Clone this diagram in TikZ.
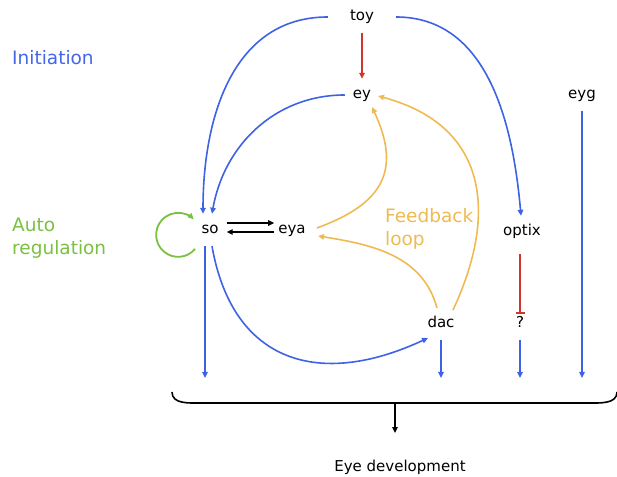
\documentclass[tikz,border=0pt]{standalone}
\usepackage{fontspec}
\setmainfont{DejaVu Sans}
\usetikzlibrary{arrows.meta}
\definecolor{cblue}{RGB}{62,98,228}
\definecolor{cred}{RGB}{208,52,44}
\definecolor{corange}{RGB}{239,186,82}
\definecolor{cgreen}{RGB}{122,192,66}
\definecolor{ciniblue}{RGB}{68,102,232}
\begin{document}
\begin{tikzpicture}[x=1pt,y=1pt,
 gene/.style={font=\fontsize{15}{18}\selectfont, inner xsep=4pt, inner ysep=0pt, text height=11pt, text depth=3pt, minimum height=32pt},
 lbl/.style={font=\fontsize{18.5}{23}\selectfont, inner sep=0pt},
 tip/.style={-{Triangle[length=6pt,width=5.5pt]}},
 bluearr/.style={tip, cblue, line width=1.6pt},
 orarr/.style={tip, corange, line width=1.6pt},
 redarr/.style={tip, cred, line width=1.6pt},
 blkarr/.style={tip, black, line width=1.4pt},
 grnarr/.style={tip, cgreen, line width=1.8pt},
 inhib/.style={-{Bar[width=9pt]}, cred, line width=1.6pt},
 brace/.style={black, line width=1.6pt},
]
\useasboundingbox (0,0) rectangle (617,476);
% labels
\node[lbl, anchor=west, text=ciniblue] (init) at (12,418) {Initiation};
\node[lbl, anchor=west, align=left, text=cgreen] (auto) at (12,238) {Auto\\regulation};
\node[lbl, anchor=west, align=left, text=corange] (fb) at (385,247) {Feedback\\loop};
% genes
\node[gene] (toy) at (362,459) {toy};
\node[gene] (ey) at (362,381) {ey};
\node[gene] (eyg) at (582,381) {eyg};
\node[gene] (so) at (210,246) {so};
\node[gene] (eya) at (292,246) {eya};
\node[gene] (optix) at (522,244) {optix};
\node[gene] (dac) at (441,152) {dac};
\node[gene] (q) at (520,152) {?};
\node[font=\fontsize{15}{18}\selectfont] (dev) at (400,9) {Eye development};
% coordinates
\coordinate (sodown) at (205,98);
\coordinate (dacend) at (441,98);
\coordinate (qend) at (520,98);
\coordinate (eygend) at (582,98);
\coordinate (bl) at (172,84);
\coordinate (bl2) at (202,73);
\coordinate (br2) at (588,73);
\coordinate (br) at (617,84);
\coordinate (stem) at (395,73);
\coordinate (devtip) at (395,43);
\coordinate (loopst) at ([shift={(-15,-19)}]so.center);
% connectors
\draw[redarr] (toy.south) -- (ey.north);
\draw[bluearr] ([xshift=-18]toy.west) to[out=180,in=90,looseness=1.05] ([xshift=-7]so.north);
\draw[bluearr] ([xshift=18]toy.east) to[out=0,in=95] ([xshift=-1]optix.north);
\draw[bluearr] ([xshift=-4]ey.west) to[out=180,in=80] ([xshift=2]so.north);
\draw[orarr] ([shift={(7,2)}]eya.east) to[out=20,in=-65,looseness=1.35] ([shift={(10,-12)}]ey.center);
\draw[orarr] ([shift={(12,14)}]dac.center) to[out=65,in=-15,looseness=1.25] ([shift={(16,-1)}]ey.center);
\draw[orarr] ([shift={(-4,16)}]dac.center) to[out=105,in=-9] ([shift={(26,-6)}]eya.center);
\draw[bluearr] ([xshift=2]so.south) to[out=-80,in=205,looseness=1.3] ([shift={(-13,-14)}]dac.center);
\draw[bluearr] ([xshift=-5]so.south) -- (sodown);
\draw[bluearr] (dac.south) -- (dacend);
\draw[bluearr] (q.south) -- (qend);
\draw[bluearr] (eyg.south) -- (eygend);
\draw[inhib] ([shift={(-2,-6)}]optix.south) -- ([yshift=-6]q.north);
\draw[blkarr] ([shift={(4,7)}]so.east) -- ([yshift=7]eya.west);
\draw[blkarr] ([yshift=-2]eya.west) -- ([shift={(4,-2)}]so.east);
\draw[grnarr] (loopst) arc[start angle=-40,end angle=-315,radius=22];
\draw[brace] (bl) to[out=-90,in=180] (bl2) -- (br2) to[out=0,in=-90] (br);
\draw[blkarr] (stem) -- (devtip);
\end{tikzpicture}
\end{document}
